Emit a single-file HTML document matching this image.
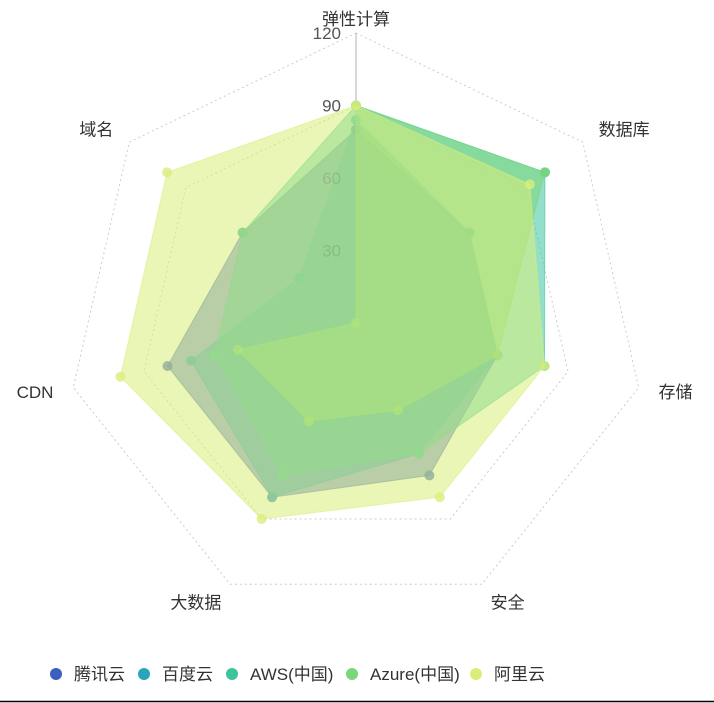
<!DOCTYPE html>
<html><head><meta charset="utf-8">
<style>
html,body{margin:0;padding:0;background:#fff;width:714px;height:703px;overflow:hidden}
svg{display:block;font-family:"Liberation Sans","Noto Sans CJK SC",sans-serif}
</style></head>
<body>
<svg id="chart" width="714" height="703" viewBox="0 0 714 703">
<g id="grid"></g>
<g id="series"></g>
<g id="labels"></g>
<g id="legend"></g>
<line x1="0" y1="701.5" x2="714" y2="701.5" stroke="#000" stroke-width="1.5"/>
</svg>
<script>
const indicators = ["弹性计算","数据库","存储","安全","大数据","CDN","域名"];
const maxValue = 120;
const ringTicks = [30, 60, 90, 120];
const seriesNames = ["腾讯云","百度云","AWS(中国)","Azure(中国)","阿里云"];
const tencent = [80, 60, 60, 70, 80, 80, 60];
const baidu = [84, 60, 60, 60, 80, 70, 30];
const aws = [90, 100, 80, 60, 70, 60, 60];
const azure = [90, 100, 60, 40, 45, 50, 0];
const aliyun = [90, 92, 80, 80, 90, 100, 100];
const seriesValues = [tencent, baidu, aws, azure, aliyun];
const colors = ["#3b5fc0","#2aa3bd","#3cc49c","#7bd67a","#d9ee7a"];

const NS = "http://www.w3.org/2000/svg";
const cx = 356, cy = 323, R = 290;
function mk(tag, attrs, parent){const e=document.createElementNS(NS,tag);for(const k in attrs)e.setAttribute(k,attrs[k]);parent.appendChild(e);return e;}
function angle(i){return -Math.PI/2 + i*2*Math.PI/indicators.length;}
function pt(i, v){const r=v/maxValue*R;const a=angle(i);return [cx+r*Math.cos(a), cy+r*Math.sin(a)];}

const grid=document.getElementById('grid');
ringTicks.forEach(t=>{
  const pts=indicators.map((_,i)=>pt(i,t).join(',')).join(' ');
  const p=mk('polygon',{points:pts,fill:'none',stroke:'#ccc','stroke-dasharray':'2,3','stroke-width':1},grid);
  
  
});
const axl=mk('line',{x1:cx,y1:cy,x2:cx,y2:cy-R,stroke:'#ccc','stroke-width':1.5},grid);



const sg=document.getElementById('series');
seriesValues.forEach((vals,s)=>{
  const g=mk('g',{},sg);
  
  
  const pts=vals.map((v,i)=>pt(i,v).join(',')).join(' ');
  const poly=mk('polygon',{points:pts,fill:colors[s],'fill-opacity':0.55,stroke:colors[s],'stroke-opacity':0.6,'stroke-width':1},g);
  
  
  vals.forEach((v,i)=>{
    const [x,y]=pt(i,v);
    const c=mk('circle',{cx:x,cy:y,r:5,fill:colors[s],'fill-opacity':0.8},g);
    
    
  });
});

const lg=document.getElementById('labels');
indicators.forEach((name,i)=>{
  const a=angle(i);
  const [x,y]=pt(i,maxValue*1.07);
  const cosA=Math.cos(a);
  let anchor='middle';
  if(cosA>0.3)anchor='start';else if(cosA<-0.3)anchor='end';
  let yy=y+6;
  if(i===0)yy=cy-R-8;
  const t=mk('text',{x:x,y:yy,'text-anchor':anchor,'font-size':17,fill:'#333'},lg);
  t.textContent=name;
  
  
});
ringTicks.forEach(t=>{
  const y=cy-t/maxValue*R;
  const tx=mk('text',{x:cx-15,y:y+6,'text-anchor':'end','font-size':17,fill:'#555','fill-opacity':t>=90?1:0.2},lg);
  tx.textContent=t;
  
  
});

const leg=document.getElementById('legend');
const legendX=[52,140,228,348,472];
seriesNames.forEach((n,s)=>{
  const g=mk('g',{},leg);
  
  
  mk('circle',{cx:legendX[s]+4,cy:674,r:6,fill:colors[s]},g);
  const t=mk('text',{x:legendX[s]+22,y:680,'font-size':17,fill:'#333'},g);
  t.textContent=n;
});
</script>
</body></html>
